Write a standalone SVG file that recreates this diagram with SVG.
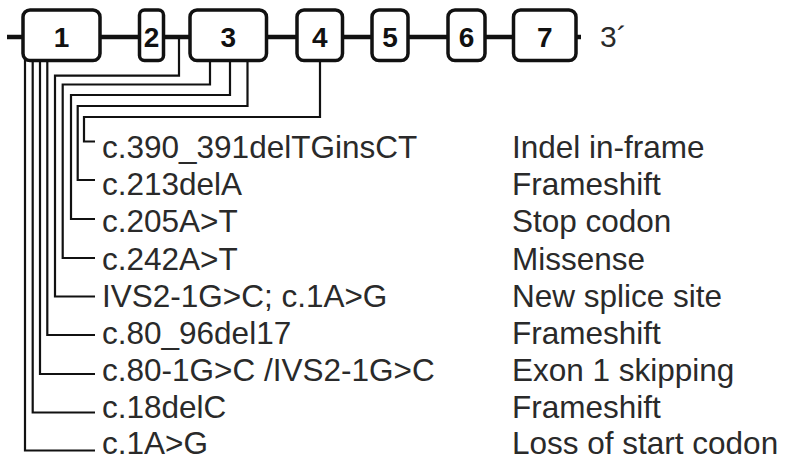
<svg xmlns="http://www.w3.org/2000/svg" width="786" height="461" viewBox="0 0 786 461">
<style>
.bb{stroke:#111;stroke-width:4.5;fill:none}
.cn{stroke:#111;stroke-width:2.2;fill:none;stroke-linejoin:miter}
.ex{fill:#fff;stroke:#111;stroke-width:3.5}
.num{font-family:"Liberation Sans",Arial,sans-serif;font-weight:bold;font-size:28px;fill:#111;text-anchor:middle}
.lbl{font-family:"Liberation Sans",Arial,sans-serif;font-size:31.5px;fill:#2a2a2a}
</style>
<rect width="786" height="461" fill="#fff"/>
<g id="connectors">
<line class="bb" x1="7" y1="37" x2="581" y2="37"/>
<path class="cn" d="M320,55 V117 H84 V141.5 H95"/>
<path class="cn" d="M247.5,55 V106 H77.7 V180 H95"/>
<path class="cn" d="M230,55 V95 H71 V219 H95"/>
<path class="cn" d="M210,55 V84.5 H62.7 V258 H95"/>
<path class="cn" d="M179,37 V75.7 H55 V296.5 H95"/>
<path class="cn" d="M47.3,55 V335 H95"/>
<path class="cn" d="M40,55 V374 H95"/>
<path class="cn" d="M32.7,55 V412.5 H95"/>
<path class="cn" d="M25,55 V450.5 H95"/>
</g>
<g id="exon1"><rect class="ex" x="23" y="10" width="77" height="50.5" rx="7"/><text class="num" x="61.5" y="47">1</text></g>
<g id="exon2"><rect class="ex" x="139.5" y="10" width="24" height="50.5" rx="5"/><text class="num" x="151.5" y="47">2</text></g>
<g id="exon3"><rect class="ex" x="190" y="10" width="76.5" height="50.5" rx="7"/><text class="num" x="228.2" y="47">3</text></g>
<g id="exon4"><rect class="ex" x="297" y="10" width="45.5" height="50.5" rx="7"/><text class="num" x="319.7" y="47">4</text></g>
<g id="exon5"><rect class="ex" x="372" y="10" width="36" height="50.5" rx="7"/><text class="num" x="390" y="47">5</text></g>
<g id="exon6"><rect class="ex" x="448" y="10" width="37" height="50.5" rx="7"/><text class="num" x="466.5" y="47">6</text></g>
<g id="exon7"><rect class="ex" x="513.5" y="10" width="62.5" height="50.5" rx="7"/><text class="num" x="544.7" y="47">7</text></g>
<g id="end3"><text class="lbl" x="600" y="47" style="font-size:30px">3´</text></g>
<g id="m1"><text class="lbl" x="102" y="158">c.390_391delTGinsCT</text><text class="lbl" x="512" y="158">Indel in-frame</text></g>
<g id="m2"><text class="lbl" x="102" y="195.2">c.213delA</text><text class="lbl" x="512" y="195.2">Frameshift</text></g>
<g id="m3"><text class="lbl" x="102" y="232.3">c.205A&gt;T</text><text class="lbl" x="512" y="232.3">Stop codon</text></g>
<g id="m4"><text class="lbl" x="102" y="269.5">c.242A&gt;T</text><text class="lbl" x="512" y="269.5">Missense</text></g>
<g id="m5"><text class="lbl" x="102" y="306.6">IVS2-1G&gt;C; c.1A&gt;G</text><text class="lbl" x="512" y="306.6">New splice site</text></g>
<g id="m6"><text class="lbl" x="102" y="343.8">c.80_96del17</text><text class="lbl" x="512" y="343.8">Frameshift</text></g>
<g id="m7"><text class="lbl" x="102" y="380.9">c.80-1G&gt;C /IVS2-1G&gt;C</text><text class="lbl" x="512" y="380.9">Exon 1 skipping</text></g>
<g id="m8"><text class="lbl" x="102" y="418">c.18delC</text><text class="lbl" x="512" y="418">Frameshift</text></g>
<g id="m9"><text class="lbl" x="102" y="454.2">c.1A&gt;G</text><text class="lbl" x="512" y="454.2">Loss of start codon</text></g>
</svg>
